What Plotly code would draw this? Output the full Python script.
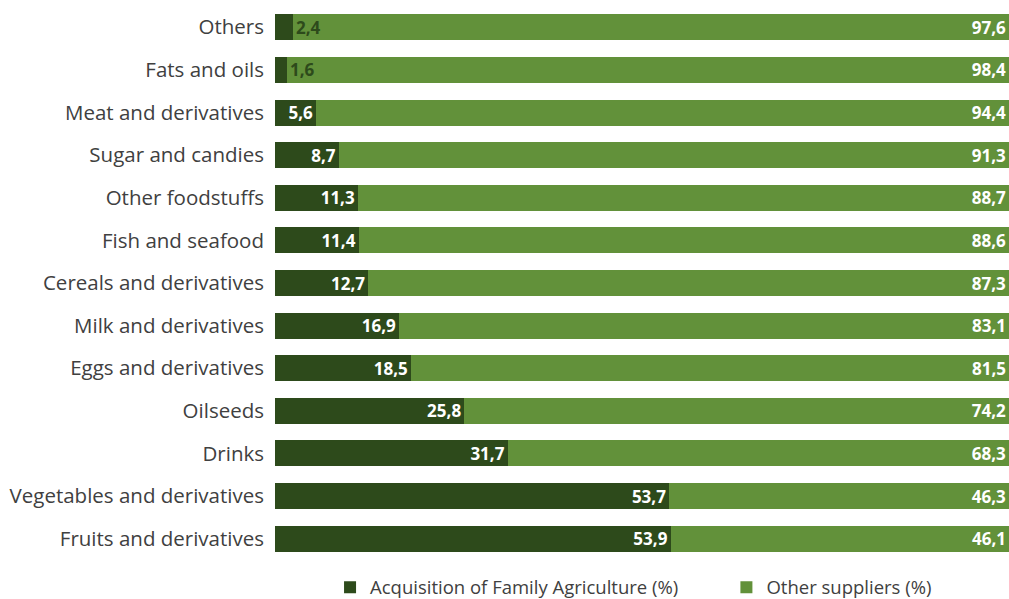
import plotly.graph_objects as go

categories = ["Fruits and derivatives", "Vegetables and derivatives", "Drinks", "Oilseeds",
              "Eggs and derivatives", "Milk and derivatives", "Cereals and derivatives",
              "Fish and seafood", "Other foodstuffs", "Sugar and candies",
              "Meat and derivatives", "Fats and oils", "Others"]
family = [53.9, 53.7, 31.7, 25.8, 18.5, 16.9, 12.7, 11.4, 11.3, 8.7, 5.6, 1.6, 2.4]
others = [46.1, 46.3, 68.3, 74.2, 81.5, 83.1, 87.3, 88.6, 88.7, 91.3, 94.4, 98.4, 97.6]

DARK = "#2d4a1b"
LIGHT = "#62913a"
FONT = "Open Sans"
TXT = "#404040"

def fmt(v):
    return f"{v:.1f}".replace(".", ",")

small = [v < 4 for v in family]

fig = go.Figure()
fig.add_trace(go.Bar(
    y=categories, x=family, orientation="h", name="Acquisition of Family Agriculture (%)",
    marker=dict(color=DARK, line=dict(width=0)),
    text=["" if s else fmt(v) for v, s in zip(family, small)],
    textposition="inside", insidetextanchor="end", constraintext="none", textangle=0,
    textfont=dict(color="white", size=17, family=FONT, weight="bold"),
    hoverinfo="x+y", legend="legend", showlegend=True,
))
fig.add_trace(go.Bar(
    y=categories, x=others, orientation="h", name="Other suppliers (%)",
    marker=dict(color=LIGHT, line=dict(width=0)),
    text=[fmt(v) for v in others],
    textposition="inside", insidetextanchor="end", constraintext="none", textangle=0,
    textfont=dict(color="white", size=17, family=FONT, weight="bold"),
    hoverinfo="x+y", legend="legend2", showlegend=True,
))
for c, v, s in zip(categories, family, small):
    if s:
        fig.add_annotation(x=v, y=c, text=fmt(v), showarrow=False, xanchor="left",
                           xshift=1, font=dict(color=DARK, size=17, family=FONT, weight="bold"))

legend_common = dict(orientation="h", y=-0.05, yanchor="middle", xanchor="left",
                     font=dict(size=18.5, color=TXT, family=FONT), bgcolor="rgba(0,0,0,0)")

fig.update_layout(
    showlegend=True,
    barmode="stack", bargap=0.39,
    width=1009, height=599,
    margin=dict(l=275, r=0, t=6, b=39, autoexpand=False),
    plot_bgcolor="white", paper_bgcolor="white",
    font=dict(family=FONT, color=TXT),
    uniformtext=dict(mode=False),
    legend=dict(x=0.075, visible=True, **legend_common),
    legend2=dict(x=0.615, visible=True, **legend_common),
    xaxis=dict(range=[0, 100], visible=False, fixedrange=True),
    yaxis=dict(categoryorder="array", categoryarray=categories, showline=False, showgrid=False,
               ticks="", ticklabelstandoff=10, tickfont=dict(size=20.5, color=TXT, family=FONT)),
)
fig.write_html("out.html")
